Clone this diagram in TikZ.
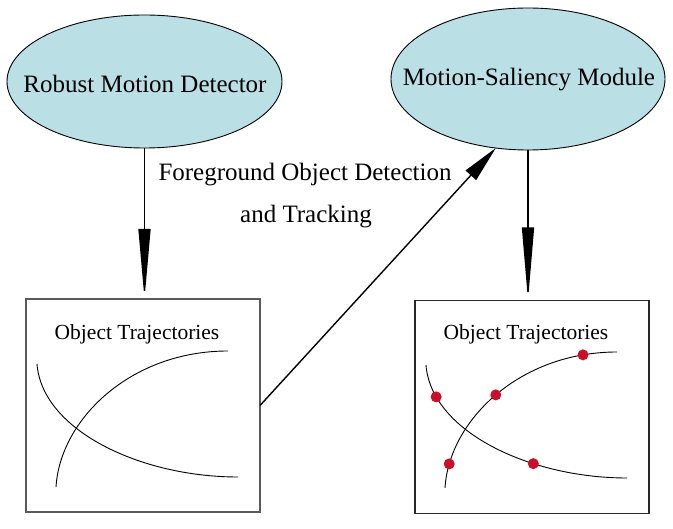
\documentclass[tikz,border=0pt]{standalone}
\usepackage{fontspec}
\setmainfont{Liberation Serif}
\usetikzlibrary{shapes.geometric,arrows.meta}
\definecolor{ellfill}{RGB}{186,224,230}
\definecolor{dotred}{RGB}{200,16,40}
\definecolor{boxgray}{RGB}{90,90,90}
\definecolor{boxdark}{RGB}{40,40,40}
\begin{document}
\begin{tikzpicture}[x=1pt,y=-1pt,
 ell/.style={ellipse,draw=black,line width=0.9pt,fill=ellfill,inner sep=0pt,outer sep=0pt},
 trajbox/.style={line width=1.4pt,minimum width=234pt,minimum height=213pt,inner sep=0pt,outer sep=0pt},
 title/.style={font=\fontsize{21.5}{26}\selectfont,anchor=base,inner sep=0pt},
 lbl/.style={font=\fontsize{25}{30}\selectfont,anchor=base,inner sep=0pt},
 traj/.style={line width=0.9pt},
 conn/.style={line width=1.4pt},
 dot/.style={circle,fill=dotred,inner sep=0pt,minimum size=11pt}]
\useasboundingbox (0,0) rectangle (673,529);
\fill[white] (0,0) rectangle (673,529);
% ellipses
\node[ell,minimum width=275pt,minimum height=133pt] (rmd) at (144.5,81.5) {};
\node[lbl] (rmdt) at (145,92.5) {Robust Motion Detector};
\node[ell,minimum width=274pt,minimum height=142pt] (msm) at (528,79) {};
\node[lbl] (msmt) at (529,86) {Motion-Saliency Module};
% boxes
\node[trajbox,draw=boxgray] (box1) at (143,405.5) {};
\node[trajbox,draw=boxdark] (box2) at (532,407) {};
\node[title] (t1) at (137,340) {Object Trajectories};
\node[title] (t2) at (526,340) {Object Trajectories};
% label
\node[lbl] (fg) at (305,181) {Foreground Object Detection};
\node[lbl] (tr) at (306,223) {and Tracking};
% trajectories left
\draw[traj] (37,364) .. controls (42,430) and (140,477) .. (238,477);
\draw[traj] (56,487) .. controls (60,420) and (130,351) .. (228,351);
% trajectories right
\draw[traj] (426,365) .. controls (431,431) and (529,478) .. (627,478)
  node[dot,pos=0.17] (d1) {} node[dot,pos=0.67] (d2) {};
\draw[traj] (445,488) .. controls (449,421) and (519,352) .. (617,352)
  node[dot,pos=0.12] (d3) {} node[dot,pos=0.5] (d4) {} node[dot,pos=0.88] (d5) {};
% connectors
\draw[conn,-{Triangle[length=70pt,width=12pt]}] (rmd.south) -- (rmd.south |- box1.north);
\draw[conn,-{Triangle[length=73pt,width=12pt]}] (msm.south) -- (msm.south |- box2.north);
\draw[conn,-{Triangle[length=37pt,width=14pt]}] (box1.east) -- (msm.245);
\end{tikzpicture}
\end{document}
